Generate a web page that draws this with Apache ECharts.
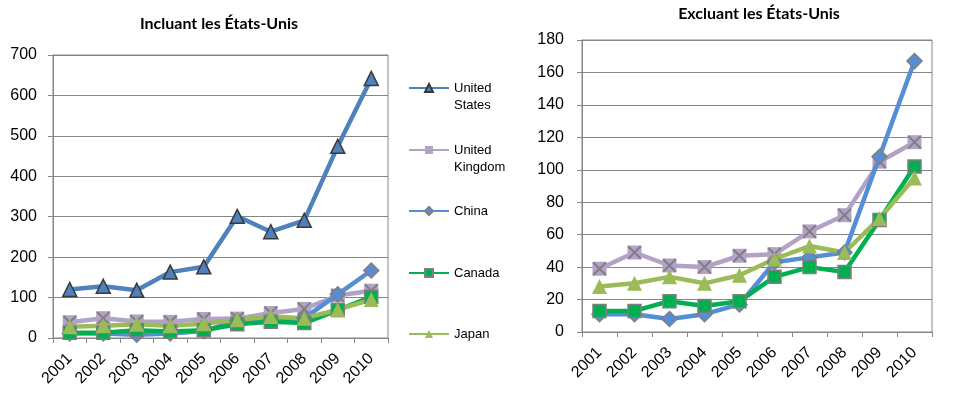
<!DOCTYPE html>
<html><head><meta charset="utf-8">
<script src="https://cdn.jsdelivr.net/npm/echarts@6/dist/echarts.min.js"></script>
<style>html,body{margin:0;padding:0;background:#fff}#c{width:957px;height:394px}</style>
</head><body><div id="c"></div><script>
const years = ['2001','2002','2003','2004','2005','2006','2007','2008','2009','2010'];
const unitedStates = [120,128,118,163,176,301,263,291,474,642];
const unitedKingdom = [39,49,41,40,47,48,62,72,105,117];
const china = [11,11,8,11,17,43,46,49,108,167];
const canada = [13,13,19,16,19,34,40,37,69,102];
const japan = [28,30,34,30,35,45,53,49,70,95];
const leftAxis = {max:700, interval:100};
const rightAxis = {max:180, interval:20};
const titles = ['Incluant les États-Unis','Excluant les États-Unis'];
const names = ['United States','United Kingdom','China','Canada','Japan'];
const legendLabels = [' \nUnited\nStates',' \nUnited\nKingdom','China','Canada','Japan'];

const FONT = "'Liberation Sans Narrow', 'Liberation Sans', Arial, sans-serif";
const LFONT = "'Liberation Sans', Arial, sans-serif";
const GRAY = '#868686';
const MK = '#7F7F7F';
const XPATH = 'path://M0 1L1 0L10 9L9 10Z M9 0L10 1L1 10L0 9Z';

function xAxis(gi){
  return {type:'category', gridIndex:gi, data:years, boundaryGap:true,
    axisLine:{lineStyle:{color:GRAY,width:1}},
    axisTick:{show:true, interval:0, length:5, lineStyle:{color:GRAY}},
    axisLabel:{interval:0, rotate:45, margin:18, color:'#000', fontSize:16, fontFamily:FONT},
    splitLine:{show:false}};
}
function yAxis(gi, cfg, margin){
  return {type:'value', gridIndex:gi, min:0, max:cfg.max, interval:cfg.interval,
    axisLine:{show:true, lineStyle:{color:GRAY,width:1}},
    axisTick:{show:true, length:5, lineStyle:{color:GRAY}},
    axisLabel:{margin:margin, color:'#000', fontSize:16, fontFamily:FONT},
    splitLine:{show:true, lineStyle:{color:GRAY,width:1}}};
}
function seriesFor(gi, withUS){
  const s = [];
  const base = {type:'line', xAxisIndex:gi, yAxisIndex:gi, showAllSymbol:true, animation:false};
  if (withUS) s.push(Object.assign({}, base, {name:names[0], data:unitedStates,
    symbol:'triangle', symbolSize:14,
    lineStyle:{color:'#4F81BD', width:4.5},
    itemStyle:{color:'#4F81BD', borderColor:'#3A3A3A', borderWidth:1.5}}));
  s.push(Object.assign({}, base, {name:names[1], data:unitedKingdom,
    symbol:'rect', symbolSize:14,
    lineStyle:{color:'#B3A2C7', width:4.5},
    itemStyle:{color:'#B3A2C7', borderColor:'#B3A2C7', borderWidth:0}}));
  s.push({type:'scatter', name:'ukx', xAxisIndex:gi, yAxisIndex:gi, data:unitedKingdom, silent:true, animation:false,
    symbol:XPATH, symbolSize:14, z:3,
    itemStyle:{color:MK, opacity:1}});
  s.push(Object.assign({}, base, {name:names[2], data:china,
    symbol:'diamond', symbolSize:15, z:4,
    lineStyle:{color:'#558ED5', width:4.5},
    itemStyle:{color:'#558ED5', borderColor:MK, borderWidth:1.5}}));
  s.push(Object.assign({}, base, {name:names[3], data:canada,
    symbol:'rect', symbolSize:13, z:4,
    lineStyle:{color:'#00B050', width:4.5},
    itemStyle:{color:'#00B050', borderColor:MK, borderWidth:1.5}}));
  s.push(Object.assign({}, base, {name:names[4], data:japan,
    symbol:'triangle', symbolSize:15, z:4,
    lineStyle:{color:'#9BBB59', width:4.5},
    itemStyle:{color:'#9BBB59', borderColor:'#9BBB59', borderWidth:0}}));
  return s;
}
const iconCenters = [88,150,211,273,334];
const legends = names.map((n,i)=>{
  const multi = legendLabels[i].indexOf('\n')>=0;
  return {left:408, top: multi ? iconCenters[i]-25.5 : iconCenters[i]-8.5, padding:0,
    itemWidth:40, itemHeight:10, selectedMode:false,
    data:[n],
    formatter: ()=>legendLabels[i],
    textStyle:{fontSize:13, fontFamily:LFONT, color:'#000', lineHeight:17}};
});

const chart = echarts.init(document.getElementById('c'), null, {renderer:'canvas'});
chart.setOption({
  animation:false,
  backgroundColor:'#fff',
  grid:[
    {left:53, right:569, top:55, bottom:56, show:true, borderColor:GRAY, borderWidth:1, backgroundColor:'transparent'},
    {left:582, right:25, top:40, bottom:62, show:true, borderColor:GRAY, borderWidth:1, backgroundColor:'transparent'}
  ],
  xAxis:[xAxis(0), xAxis(1)],
  yAxis:[yAxis(0,leftAxis,16), yAxis(1,rightAxis,18)],
  legend: legends,
  series: seriesFor(0,true).concat(seriesFor(1,false)),
  graphic:[
    {type:'text', x:219, y:24, style:{text:titles[0], font:"bold 16px Lato, sans-serif", fill:'#000', align:'center', verticalAlign:'middle'}},
    {type:'text', x:759, y:14, style:{text:titles[1], font:"bold 16px Lato, sans-serif", fill:'#000', align:'center', verticalAlign:'middle'}}
  ]
});
</script></body></html>
